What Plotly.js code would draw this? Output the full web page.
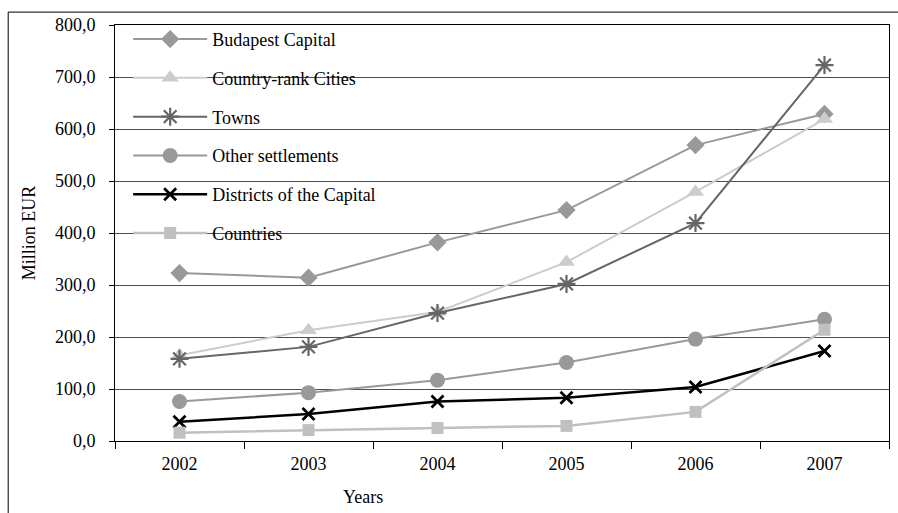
<!DOCTYPE html>
<html>
<head>
<meta charset="utf-8">
<script src="https://cdn.plot.ly/plotly-3.0.1.min.js"></script>
<style>
  html, body { margin: 0; padding: 0; background: #fff; }
  #chart { width: 898px; height: 513px; }
</style>
</head>
<body>
<div id="chart"></div>
<script>
var years = ["2002", "2003", "2004", "2005", "2006", "2007"];
var budapestCapital = [323, 314, 382, 444, 569, 629];
var countryRankCities = [165, 213, 248, 344, 479, 619];
var towns = [158, 181, 246, 302, 419, 723];
var otherSettlements = [76, 93, 117, 151, 196, 234];
var districtsOfCapital = [37, 52, 76, 83, 104, 173];
var countries = [16, 21, 25, 29, 56, 214];
var yTicks = [0, 100, 200, 300, 400, 500, 600, 700, 800];

var FONT = "Liberation Serif, Times New Roman, serif";

function tr(name, y, color, lw, symbol, size, mcolor, mlw, group) {
  return {
    type: "scatter", mode: "lines+markers", name: name, x: years, y: y,
    legendgroup: group,
    line: {color: color, width: lw},
    marker: {symbol: symbol, size: size, color: mcolor,
             line: {color: mcolor, width: mlw}}
  };
}

var data = [
  tr("Budapest Capital", budapestCapital, "#999999", 2, "diamond", 14, "#999999", 0, "a"),
  tr("Country-rank Cities", countryRankCities, "#cccccc", 2, "triangle-up", 15, "#cccccc", 0, "b"),
  tr("Towns", towns, "#666666", 2, "asterisk-open", 15, "#666666", 2.2, "c"),
  tr("Other settlements", otherSettlements, "#999999", 2, "circle", 15, "#999999", 0, "d"),
  tr("Districts of the Capital", districtsOfCapital, "#000000", 2.5, "x-thin-open", 12, "#000000", 2.8, "e"),
  tr("Countries", countries, "#c0c0c0", 2.5, "square", 12, "#c0c0c0", 0, "f")
];

var layout = {
  width: 898, height: 513,
  margin: {l: 115, r: 9, t: 25, b: 72},
  paper_bgcolor: "#ffffff", plot_bgcolor: "#ffffff",
  font: {family: FONT, size: 18, color: "#000000"},
  separators: ", ",
  showlegend: true,
  legend: {
    x: 0.017, y: 1.01, xanchor: "left", yanchor: "top",
    bgcolor: "rgba(0,0,0,0)", borderwidth: 0,
    font: {family: FONT, size: 18, color: "#000000"},
    tracegroupgap: 12.4, itemwidth: 74, traceorder: "grouped"
  },
  xaxis: {
    type: "category", tickson: "boundaries", ticks: "outside", ticklen: 7,
    tickcolor: "#000", showline: true, linecolor: "#000", linewidth: 1,
    mirror: true, showgrid: false, zeroline: false,
    tickfont: {family: FONT, size: 18}, ticklabelstandoff: 6,
    range: [-0.5, 5.5]
  },
  yaxis: {
    range: [0, 800], tickvals: yTicks, tickformat: ".1f",
    ticks: "outside", ticklen: 5, tickcolor: "#000",
    showline: true, linecolor: "#000", linewidth: 1, mirror: true,
    showgrid: true, gridcolor: "#4d4d4d", gridwidth: 1, zeroline: false,
    tickfont: {family: FONT, size: 18}, ticklabelstandoff: 10,
    title: {text: "Million EUR", font: {family: FONT, size: 18}, standoff: 14}
  },
  annotations: [{
    text: "Years", xref: "paper", yref: "paper", x: 0.32, y: -0.135,
    xanchor: "center", yanchor: "middle", showarrow: false,
    font: {family: FONT, size: 18, color: "#000"}
  }],
  shapes: [
    {type: "line", xref: "paper", yref: "paper", x0: -0.138, x1: 1.02, y0: 1.031, y1: 1.031,
     line: {color: "#000", width: 1}},
    {type: "line", xref: "paper", yref: "paper", x0: -0.138, x1: -0.138, y0: 1.031, y1: -0.2,
     line: {color: "#000", width: 1}}
  ]
};

Plotly.newPlot("chart", data, layout, {displayModeBar: false, staticPlot: true});
</script>
</body>
</html>
